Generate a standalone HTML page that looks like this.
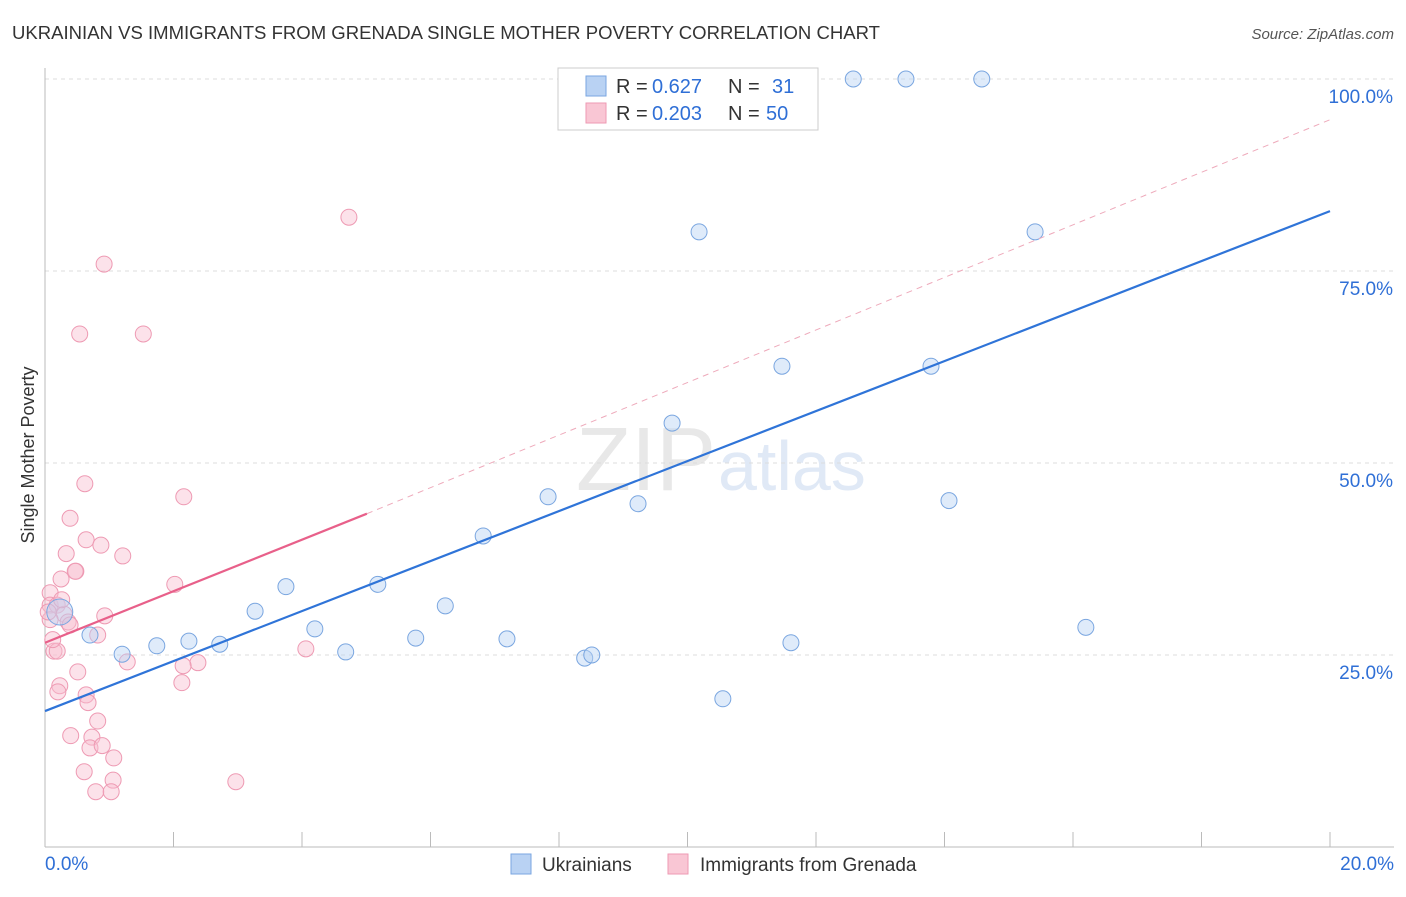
<!DOCTYPE html>
<html><head><meta charset="utf-8"><style>
body{margin:0;background:#fff;font-family:"Liberation Sans",sans-serif}
svg text{font-family:"Liberation Sans",sans-serif}
</style></head><body>
<svg id="c" width="1406" height="892">
<text x="12" y="39" font-size="18" fill="#333" textLength="868" lengthAdjust="spacingAndGlyphs">UKRAINIAN VS IMMIGRANTS FROM GRENADA SINGLE MOTHER POVERTY CORRELATION CHART</text>
<text x="1394" y="39" font-size="15" fill="#555" text-anchor="end" font-style="italic">Source: ZipAtlas.com</text>
<text x="716" y="490" font-size="90" fill="#e8e8e8" text-anchor="end" font-family="Liberation Serif">ZIP</text>
<text x="718" y="490" font-size="70" fill="#e0e9f6">atlas</text>
<text transform="translate(34,455) rotate(-90)" font-size="18" fill="#333" text-anchor="middle">Single Mother Poverty</text>
<g id="grid"></g><g id="marks"></g>
<g>
<rect x="558" y="68" width="260" height="62" fill="#fff" stroke="#ccc"/>
<rect x="586" y="76" width="20" height="20" fill="#b9d2f3" stroke="#7aa6e0"/>
<rect x="586" y="103" width="20" height="20" fill="#f9c6d4" stroke="#ee9ab3"/>
<text x="616" y="93" font-size="20" fill="#333">R =</text><text x="652" y="93" font-size="20" fill="#2f6fd6">0.627</text>
<text x="728" y="93" font-size="20" fill="#333">N =</text><text x="772" y="93" font-size="20" fill="#2f6fd6">31</text>
<text x="616" y="120" font-size="20" fill="#333">R =</text><text x="652" y="120" font-size="20" fill="#2f6fd6">0.203</text>
<text x="728" y="120" font-size="20" fill="#333">N =</text><text x="766" y="120" font-size="20" fill="#2f6fd6">50</text>
</g>
<g>
<rect x="511" y="854" width="20" height="20" fill="#b9d2f3" stroke="#7aa6e0"/>
<text x="542" y="871" font-size="19" fill="#333">Ukrainians</text>
<rect x="668" y="854" width="20" height="20" fill="#f9c6d4" stroke="#ee9ab3"/>
<text x="700" y="871" font-size="19" fill="#333">Immigrants from Grenada</text>
</g>
</svg>
<script>
const xTickLabels=["0.0%","20.0%"];
const yTicks=[25,50,75,100];
const blueX=[0.23,0.70,1.20,1.74,2.24,2.72,3.27,3.75,4.20,4.68,5.18,5.77,6.23,6.82,7.19,7.83,8.40,8.51,9.23,9.76,10.18,10.55,11.47,11.61,12.58,13.40,13.79,14.07,14.58,15.41,16.20];
const blueY=[30.6,27.6,25.1,26.2,26.8,26.4,30.7,33.9,28.4,25.4,34.2,27.2,31.4,40.5,27.1,45.6,24.6,25.0,44.7,55.2,80.1,19.3,62.6,26.6,100,100,62.6,45.1,100,80.1,28.6];
const pinkX=[0.92,4.73,0.54,1.53,0.62,2.16,0.39,0.64,0.87,0.33,1.21,0.48,0.25,2.02,0.08,0.08,0.19,0.93,0.30,0.36,0.82,0.14,0.19,4.06,1.28,0.51,2.38,2.15,0.23,2.13,0.20,0.64,0.67,0.82,0.40,0.73,0.70,0.89,1.07,0.61,1.06,2.97,0.79,1.03,0.47,0.08,0.12,0.26,0.05,0.39];
const pinkY=[75.9,82.0,66.8,66.8,47.3,45.6,42.8,40.0,39.3,38.2,37.9,35.9,34.9,34.2,33.1,31.5,31.5,30.1,30.3,29.3,27.6,25.5,25.5,25.8,24.1,22.8,24.0,23.6,21.0,21.4,20.2,19.8,18.8,16.4,14.5,14.3,12.9,13.2,11.6,9.8,8.7,8.5,7.2,7.2,35.9,29.6,27.0,32.2,30.6,28.9];
const blueTrend=[17.7,82.8];
const pinkTrend=[26.6,43.4,94.7];
const X=v=>45+v*64.25, Y=v=>847-v*7.68;
const NS="http://www.w3.org/2000/svg";
function mk(t,a,p){const e=document.createElementNS(NS,t);for(const k in a)e.setAttribute(k,a[k]);p.appendChild(e);return e;}
const g=document.getElementById('grid'),m=document.getElementById('marks');
yTicks.forEach(t=>{
 const l=mk('line',{x1:45,x2:1394,y1:Y(t),y2:Y(t),stroke:'#ddd','stroke-dasharray':'4,4'},g);
 
 
 const tx=mk('text',{x:1393,y:Y(t)+24,'font-size':19,fill:'#2f6fd6','text-anchor':'end'},g);tx.textContent=t.toFixed(1)+'%';
 
 
});
const ax=mk('line',{x1:45,x2:1394,y1:847,y2:847,stroke:'#bbb'},g);


const ay=mk('line',{x1:45,x2:45,y1:68,y2:847,stroke:'#bbb'},g);


for(let i=0;i<=10;i++){const t=mk('line',{x1:X(i*2),x2:X(i*2),y1:832,y2:847,stroke:'#bbb'},g);
 
 }
[[0,'start',45],[20,'end',1394]].forEach((d,i)=>{const t=mk('text',{x:d[2],y:870,'font-size':19,fill:'#2f6fd6','text-anchor':d[1]},g);t.textContent=xTickLabels[i];
 
 });
pinkX.forEach((x,i)=>{const c=mk('circle',{cx:X(x),cy:Y(pinkY[i]),r:8,fill:'rgba(249,190,208,0.45)',stroke:'#ee9ab3','stroke-width':1},m);
 
 });
blueX.forEach((x,i)=>{const c=mk('circle',{cx:X(x),cy:Y(blueY[i]),r:i==0?13:8,fill:'rgba(185,210,243,0.45)',stroke:'#7aa6e0','stroke-width':1},m);
 
 });
const bt=mk('line',{x1:X(0),y1:Y(blueTrend[0]),x2:X(20),y2:Y(blueTrend[1]),stroke:'#2f74d8','stroke-width':2.2},m);


const pd=mk('line',{x1:X(5.01),y1:Y(pinkTrend[1]),x2:X(20),y2:Y(pinkTrend[2]),stroke:'#eeaabb','stroke-width':1,'stroke-dasharray':'6,5'},m);


const pt=mk('line',{x1:X(0),y1:Y(pinkTrend[0]),x2:X(5.01),y2:Y(pinkTrend[1]),stroke:'#e8608a','stroke-width':2.2},m);


</script>
</body></html>
